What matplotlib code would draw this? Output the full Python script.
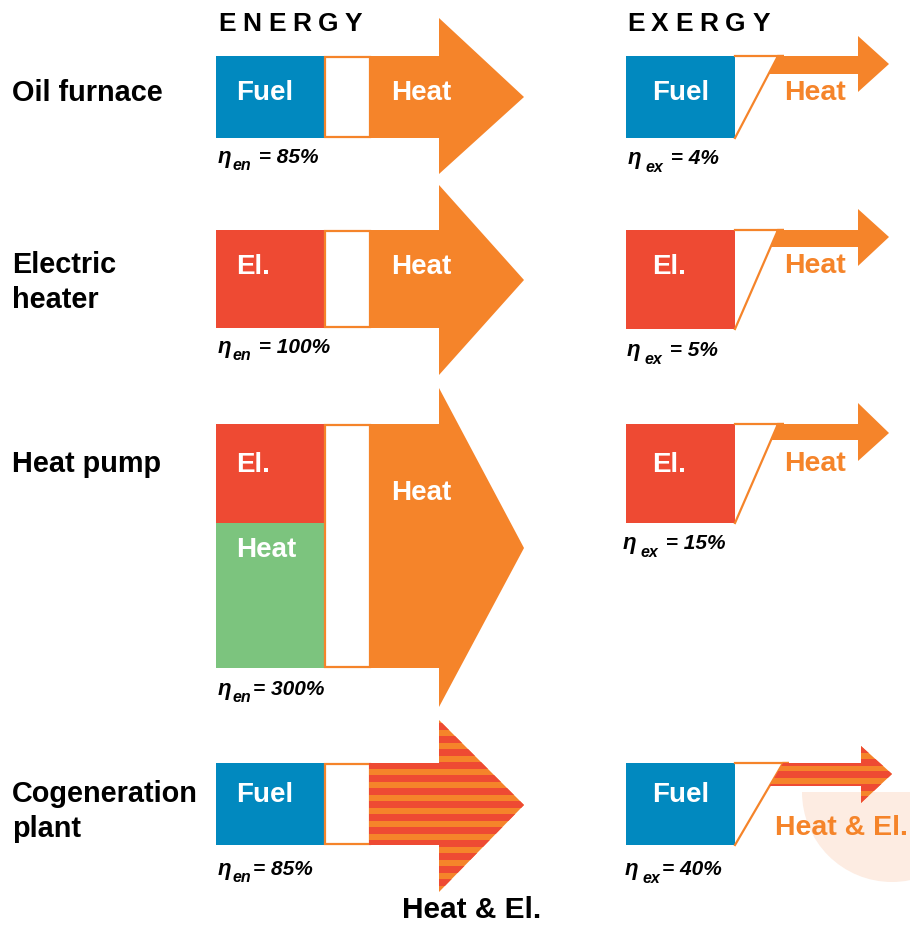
import matplotlib
matplotlib.use("Agg")
import matplotlib.pyplot as plt
from matplotlib.patches import Polygon, Rectangle, Wedge

# ---------------- data ----------------
rows = ["Oil furnace", "Electric\nheater", "Heat pump", "Cogeneration\nplant"]
energy_inputs = [["Fuel"], ["El."], ["El.", "Heat"], ["Fuel"]]
energy_outputs = ["Heat", "Heat", "Heat", "Heat & El."]
exergy_inputs = ["Fuel", "El.", "El.", "Fuel"]
exergy_outputs = ["Heat", "Heat", "Heat", "Heat & El."]
eta_en = ["85%", "100%", "300%", "85%"]
eta_ex = ["4%", "5%", "15%", "40%"]
eta_en_sep = [" = ", " = ", "= ", "= "]
eta_ex_sep = [" = ", " = ", " = ", "= "]

# ---------------- style ----------------
BLUE = "#0189BF"
RED = "#EE4A33"
ORANGE = "#F5842A"
GREEN = "#7CC47E"
PEACH = "#FDECE2"
input_color = {"Fuel": BLUE, "El.": RED, "Heat": GREEN}
FONT = "Liberation Sans"

# ---------------- layout (pixels) ----------------
row_top = [56, 230, 424, 763]
row_bot = [138, 328, 668, 845]
split_y = [None, None, 523, None]
en_head_top = [18, 185, 388, 720]
en_head_bot = [174, 375, 707, 892]
en_tip_y = [97, 280, 548, 805]
ex_bot = [138, 329, 523, 845]
ex_body_bot = [74, 247, 440, 786]
ex_head_top = [36, 209, 403, 746]
ex_head_bot = [92, 266, 461, 803]
ex_tip_y = [64, 237, 433, 774]
ex_tip_x = [889, 889, 889, 892]
ex_base_x = [858, 858, 858, 861]
ex_diag_x = [778, 778, 778, 783]

fig = plt.figure(figsize=(9.10, 9.26), dpi=100)
ax = fig.add_axes([0, 0, 1, 1])
ax.set_xlim(0, 910)
ax.set_ylim(926, 0)
ax.axis("off")
renderer = fig.canvas.get_renderer()


def text_w(t):
    return t.get_window_extent(renderer=renderer).width


def put(x, y, s, size, color="black", style="normal", weight="bold", **kw):
    return ax.text(x, y, s, fontsize=size, color=color, fontstyle=style,
                   fontweight=weight, family=FONT, ha="left", va="baseline", **kw)


def spaced(x, y, s, size, track):
    for ch in s:
        t = put(x, y, ch, size)
        x += text_w(t) + track


def striped(poly, y0, y1, period, red_h, start):
    ax.add_patch(poly)
    y = y0 + start
    while y < y1:
        r = Rectangle((0, y), 910, red_h, facecolor=RED, edgecolor="none", zorder=poly.get_zorder() + 0.1)
        ax.add_patch(r)
        r.set_clip_path(poly)
        y += period


def eta(x, y, sub, sep, val, sub_gap, sub_drop):
    t = put(x, y, "η", 16, style="italic")
    x2 = x + text_w(t) + sub_gap
    t2 = put(x2, y + sub_drop, sub, 11.5, style="italic")
    x3 = x2 + text_w(t2)
    put(x3 + 2, y, sep + val, 15, style="italic")


# headers
spaced(218, 31, "ENERGY", 19, 6.6)
spaced(627, 31, "EXERGY", 19, 6.6)

# peach half disc behind cogeneration exergy
ax.add_patch(Wedge((892, 792), 90, 0, 180, facecolor=PEACH, edgecolor="none", zorder=0))

row_label_base = [[101], [273, 308], [472], [802, 837]]
en_in_base = [[100], [274], [472, 557], [802]]
en_out_base = [100, 274, 500, None]
ex_label_base = [100, 273, 471, 835]
eta_en_base = [163, 353, 695, 875]
eta_ex_base = [164, 356, 549, 875]
eta_ex_x = [628, 627, 623, 625]

for i, name in enumerate(rows):
    # row label
    for line, yb in zip(name.split("\n"), row_label_base[i]):
        put(12, yb, line, 20.8)

    top, bot = row_top[i], row_bot[i]
    # ---------- energy ----------
    ins = energy_inputs[i]
    if len(ins) == 1:
        ax.add_patch(Rectangle((216, top), 109, bot - top, facecolor=input_color[ins[0]], edgecolor="none", zorder=2))
    else:
        ax.add_patch(Rectangle((216, top), 109, split_y[i] - top, facecolor=input_color[ins[0]], edgecolor="none", zorder=2))
        ax.add_patch(Rectangle((216, split_y[i]), 109, bot - split_y[i], facecolor=input_color[ins[1]], edgecolor="none", zorder=2))
    for lab, yb in zip(ins, en_in_base[i]):
        put(236, yb, lab, 20, color="white", zorder=5)
    ax.add_patch(Rectangle((325, top + 1), 45, bot - top - 2, facecolor="white", edgecolor=ORANGE, lw=1.6, zorder=2))
    pts = [(369, top), (439, top), (439, en_head_top[i]), (524, en_tip_y[i]),
           (439, en_head_bot[i]), (439, bot), (369, bot)]
    if energy_outputs[i] == "Heat":
        ax.add_patch(Polygon(pts, closed=True, facecolor=ORANGE, edgecolor="none", zorder=3))
        put(391, en_out_base[i], energy_outputs[i], 20, color="white", zorder=5)
    else:
        poly = Polygon(pts, closed=True, facecolor=ORANGE, edgecolor="none", zorder=3)
        striped(poly, en_head_top[i], en_head_bot[i], 13.0, 6.5, 3)
        put(402, 918, energy_outputs[i], 21.5, zorder=5)
    eta(218, eta_en_base[i], "en", eta_en_sep[i], eta_en[i], 1, 7)

    # ---------- exergy ----------
    eb = ex_bot[i]
    ax.add_patch(Rectangle((626, top), 109, eb - top, facecolor=input_color[exergy_inputs[i]], edgecolor="none", zorder=2))
    put(652, en_in_base[i][0], exergy_inputs[i], 20, color="white", zorder=5)
    dx = ex_diag_x[i]
    ax.plot([735, dx + 6, dx, 735], [top, top, top, eb], color=ORANGE, lw=1.6, zorder=2, solid_joinstyle="miter")
    bb = ex_body_bot[i]
    xb = 735 + (dx - 735) * (eb - bb) / (eb - top)
    pts = [(dx, top), (ex_base_x[i], top), (ex_base_x[i], ex_head_top[i]), (ex_tip_x[i], ex_tip_y[i]),
           (ex_base_x[i], ex_head_bot[i]), (ex_base_x[i], bb), (xb, bb)]
    if exergy_outputs[i] == "Heat":
        ax.add_patch(Polygon(pts, closed=True, facecolor=ORANGE, edgecolor="none", zorder=3))
        put(784, ex_label_base[i], exergy_outputs[i], 20.5, color=ORANGE, zorder=5)
    else:
        poly = Polygon(pts, closed=True, facecolor=ORANGE, edgecolor="none", zorder=3)
        striped(poly, ex_head_top[i], ex_head_bot[i], 12.5, 7, 0)
        put(775, ex_label_base[i], exergy_outputs[i], 20.5, color=ORANGE, zorder=5)
    eta(eta_ex_x[i], eta_ex_base[i], "ex", eta_ex_sep[i], eta_ex[i], 4, 8)

fig.savefig("out.png", dpi=100)
